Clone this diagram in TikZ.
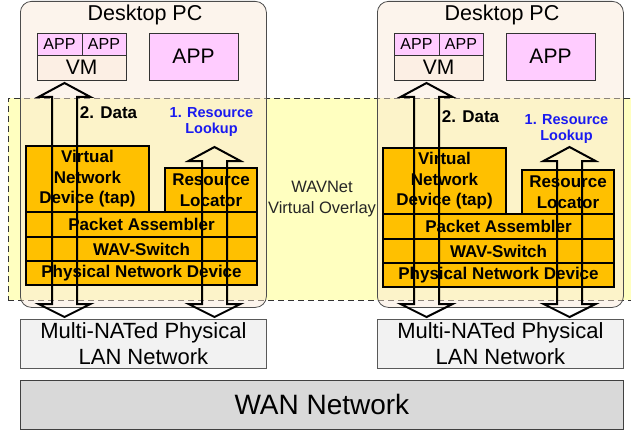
\documentclass[tikz,border=0pt]{standalone}
\usepackage{fontspec}
\setmainfont{Liberation Sans}
\usetikzlibrary{calc}

\definecolor{wavYellow}{HTML}{FFFFC0}
\definecolor{pcPeach}{HTML}{F9E6D4}
\definecolor{vmPeach}{HTML}{FCEFE4}
\definecolor{appPink}{HTML}{FFCCFF}
\definecolor{layerOrange}{HTML}{FFC000}
\definecolor{lanGrey}{HTML}{F2F2F2}
\definecolor{wanGrey}{HTML}{D9D9D9}
\definecolor{lookupBlue}{HTML}{1A1AF0}

\tikzset{
  wavzone/.style={draw=black!80, fill=wavYellow, dash pattern=on 6pt off 4pt, line width=0.8pt, inner sep=0pt, anchor=north west},
  pcbox/.style={draw=black!70, fill=pcPeach, fill opacity=0.45, rounded corners=11pt, line width=0.8pt, inner sep=0pt, anchor=north west},
  appbox/.style={draw=black!80, fill=appPink, line width=0.8pt, inner sep=0pt, outer sep=0pt, anchor=north west, font=\fontsize{16}{18}\selectfont},
  vmbox/.style={appbox, fill=vmPeach, font=\fontsize{21}{24}\selectfont},
  layer/.style={draw=black, fill=layerOrange, line width=1.5pt, inner sep=0pt, outer sep=0pt, anchor=north west, align=center, font=\bfseries\fontsize{17}{20.5}\selectfont},
  lanbox/.style={draw=black!65, fill=lanGrey, line width=0.8pt, inner sep=0pt, anchor=north west, align=center, font=\fontsize{22}{26}\selectfont},
  hollow/.style={draw=black, line width=2pt, line join=miter},
}

% hollow two-headed block arrow between two tips
\newcommand{\hollowarrow}[2]{%
  \draw[hollow] (#1) -- ($(#1)+(26,14)$) -- ($(#1)+(12.5,14)$) -- ($(#2)+(12.5,-13)$)
    -- ($(#2)+(26,-13)$) -- (#2) -- ($(#2)+(-26,-13)$) -- ($(#2)+(-12.5,-13)$)
    -- ($(#1)+(-12.5,14)$) -- ($(#1)+(-26,14)$) -- cycle;}

\begin{document}
\begin{tikzpicture}[x=1pt, y=-1pt]
    \useasboundingbox (0,0) rectangle (631,433);
    \node[wavzone, minimum width=650, minimum height=202] (wav) at (8,98) {}; % overlay band
    \node[align=center, font=\fontsize{16.5}{21}\selectfont, text=black!85] (wavtxt) at (322,199) {WAVNet\\Virtual Overlay};

    \foreach \s/\dx/\dy/\da/\ra in {l/0/0/64.5/214.5, r/357/2/426.5/569.5}{
      \node[pcbox, minimum width=246, minimum height=306] (pc\s) at (20+\dx,1) {};
      \node[anchor=base, font=\fontsize{21.5}{24}\selectfont] (pct\s) at (145+\dx,21) {Desktop PC};
      \node[appbox, minimum width=45, minimum height=22] (appa\s) at (37+\dx,33) {APP};
      \node[appbox, minimum width=44, minimum height=22] (appb\s) at (82+\dx,33) {APP};
      \node[vmbox, minimum width=89, minimum height=25] (vm\s) at (37+\dx,55) {VM};
      \node[appbox, minimum width=89, minimum height=47, font=\fontsize{21}{24}\selectfont] (app\s) at (149+\dx,33) {APP};
      % network stack
      \node[layer, minimum width=123, minimum height=66] (vnd\s) at (26+\dx,146+\dy) {Virtual\\Network\\Device (tap)};
      \node[layer, minimum width=92, minimum height=44] (rl\s) at (165+\dx,168+\dy) {Resource\\Locator};
      \node[layer, minimum width=231, minimum height=25] (pa\s) at (26+\dx,212+\dy) {Packet Assembler};
      \node[layer, minimum width=231, minimum height=24] (ws\s) at (26+\dx,237+\dy) {WAV-Switch};
      \node[layer, minimum width=231, minimum height=24] (pnd\s) at (26+\dx,261+\dy) {Physical Network Device};
      \node[lanbox, minimum width=246, minimum height=49] (lan\s) at (20+\dx,319) {Multi-NATed Physical\\LAN Network};
      % arrow tips
      \coordinate (dt\s) at (\da,83);
      \coordinate (db\s) at (\da,317);
      \coordinate (rt\s) at (\ra,147);
      \coordinate (rb\s) at (\ra,317);
      \hollowarrow{dt\s}{db\s}
      \hollowarrow{rt\s}{rb\s}
      \node[font=\bfseries\fontsize{17}{20}\selectfont] (data\s) at (\da+44,113+2*\dy) {2. Data};
      \node[align=center, text=lookupBlue, font=\bfseries\fontsize{14.5}{16}\selectfont] (look\s) at (\ra-3,122+3.5*\dy) {1. Resource\\Lookup};
    }

    \node[draw=black!75, fill=wanGrey, line width=0.8pt, minimum width=603, minimum height=49, anchor=north west, font=\fontsize{28}{30}\selectfont] (wan) at (20,380) {WAN Network};
\end{tikzpicture}
\end{document}
